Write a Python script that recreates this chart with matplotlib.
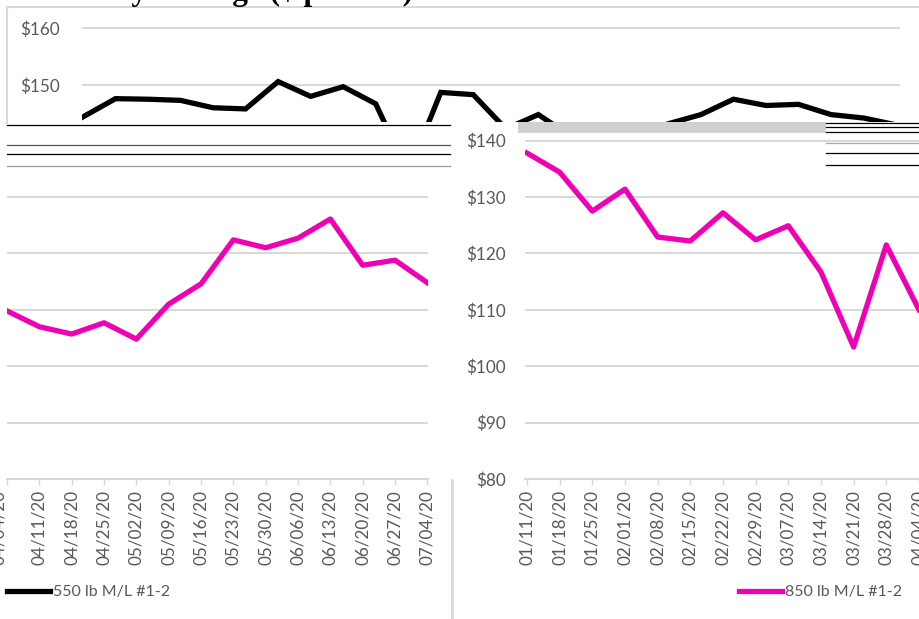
import numpy as np
import matplotlib
matplotlib.use("Agg")
import matplotlib.pyplot as plt
from matplotlib.lines import Line2D
from matplotlib.patches import Rectangle
from matplotlib.transforms import ScaledTranslation

# -------------------------------
# data
# -------------------------------
# black 550 lb series, visible in the top strip (weekly points)
black_vals = [144.4, 147.6, 147.5, 147.3, 146.0, 145.8, 150.6, 148.0, 149.7, 146.7,
              134.5, 148.7, 148.3, 142.3, 144.8, 141.0, 140.5, 141.0, 143.2, 144.8,
              147.5, 146.4, 146.6, 144.8, 144.2, 143.0]

# pink series, left panel
left_dates = ["04/04/20", "04/11/20", "04/18/20", "04/25/20", "05/02/20", "05/09/20",
              "05/16/20", "05/23/20", "05/30/20", "06/06/20", "06/13/20", "06/20/20",
              "06/27/20", "07/04/20"]
left_vals = [109.8, 107.0, 105.7, 107.7, 104.8, 111.0, 114.6, 122.4, 121.0, 122.7,
             126.1, 117.9, 118.8, 114.8]

# pink 850 lb series, right panel
right_dates = ["01/11/20", "01/18/20", "01/25/20", "02/01/20", "02/08/20", "02/15/20",
               "02/22/20", "02/29/20", "03/07/20", "03/14/20", "03/21/20", "03/28/20",
               "04/04/20"]
right_vals = [137.8, 134.4, 127.5, 131.4, 122.9, 122.2, 127.2, 122.4, 124.9, 116.7,
              103.4, 121.5, 110.0]

right_ticks = [80, 90, 100, 110, 120, 130, 140]
top_ticks = [150, 160]

PINK = "#f000b4"
GRID = "#d9d9d9"
TXT = "#595959"
W, H = 919, 619
FS = 12.3

plt.rcParams["font.family"] = ["Lato", "DejaVu Sans"]
fig = plt.figure(figsize=(W / 100, H / 100), dpi=100)


def box(x0, y0, x1, y1):
    # pixel box (top-left origin) -> figure fractions
    return [x0 / W, 1 - y1 / H, (x1 - x0) / W, (y1 - y0) / H]


def fx(x):
    return x / W


def fy(y):
    return 1 - y / H


# -------------------------------
# top strip (550 lb, black)
# -------------------------------
ax_top = fig.add_axes(box(82, 7, 900, 122))
ax_top.plot(range(len(black_vals)), black_vals, color="black", lw=3.8,
            solid_joinstyle="miter", label="550 lb M/L #1-2")
ax_top.set_xlim(-0.03, 25.12)
ax_top.set_ylim(143.5, 163.7)
ax_top.set_yticks(top_ticks)
ax_top.set_yticklabels([f"${v}" for v in top_ticks])
ax_top.set_xticks([])
ax_top.tick_params(axis="y", length=0, pad=16, labelsize=FS, labelcolor=TXT)
ax_top.grid(axis="y", color=GRID, lw=1.5)
ax_top.set_axisbelow(True)
for s in ax_top.spines.values():
    s.set_visible(False)
ax_top.patch.set_alpha(0)

# -------------------------------
# left lower panel (pink)
# -------------------------------
ax_l = fig.add_axes(box(7, 122, 428, 479))
xl = np.arange(len(left_vals))
ax_l.plot(xl, left_vals, color=PINK, lw=3.8)
ax_l.set_xlim(0, 13.02)
ax_l.set_ylim(80, 143.3)
ax_l.set_yticks([90, 100, 110, 120, 130])
ax_l.set_yticklabels([])
ax_l.tick_params(axis="y", length=0)
ax_l.grid(axis="y", color=GRID, lw=1.5)
ax_l.set_axisbelow(True)
ax_l.set_xticks(xl)
ax_l.set_xticklabels(left_dates, rotation=90)
ax_l.tick_params(axis="x", length=4, width=1, color=GRID, pad=4,
                 labelsize=FS, labelcolor=TXT)
for s in ["top", "left", "right"]:
    ax_l.spines[s].set_visible(False)
ax_l.spines["bottom"].set_color(GRID)
ax_l.spines["bottom"].set_linewidth(1.5)
ax_l.patch.set_alpha(0)

# first date sits mostly off the left edge in the reference
first = ax_l.xaxis.get_major_ticks()[0].label1
first.set_transform(first.get_transform() + ScaledTranslation(-6 / 72, 0, fig.dpi_scale_trans))

# -------------------------------
# right panel (850 lb, pink)
# -------------------------------
ax_r = fig.add_axes(box(525, 122, 950, 479))
xr = np.arange(len(right_vals))
ax_r.plot(xr, right_vals, color=PINK, lw=3.8, label="850 lb M/L #1-2")
ax_r.set_xlim(-0.06, 12.95)
ax_r.set_ylim(80, 143.3)
ax_r.set_yticks(right_ticks)
ax_r.set_yticklabels([f"${v}" for v in right_ticks])
ax_r.tick_params(axis="y", length=0, pad=14, labelsize=FS, labelcolor=TXT)
ax_r.grid(axis="y", color=GRID, lw=1.5)
ax_r.set_axisbelow(True)
ax_r.set_xticks(xr)
ax_r.set_xticklabels(right_dates, rotation=90)
ax_r.tick_params(axis="x", length=4, width=1, color=GRID, pad=4,
                 labelsize=FS, labelcolor=TXT)
for s in ["top", "left", "right"]:
    ax_r.spines[s].set_visible(False)
ax_r.spines["bottom"].set_color(GRID)
ax_r.spines["bottom"].set_linewidth(1.5)
ax_r.patch.set_alpha(0)

# -------------------------------
# chart frame, title remnant and screen artefacts
# -------------------------------
fig.add_artist(Line2D([fx(7), fx(919)], [fy(7), fy(7)], color=GRID, lw=1.5))
fig.add_artist(Line2D([fx(7), fx(7)], [fy(7), fy(123)], color=GRID, lw=1.5))
fig.add_artist(Line2D([fx(452), fx(452)], [fy(480), fy(619)], color=GRID, lw=2))

fig.text(fx(48), fy(0), "Weekly Average ($ per cwt)", family="Liberation Serif",
         weight="bold", fontsize=22.5, va="baseline", ha="left")

fig.add_artist(Rectangle((fx(518), fy(133)), fx(826) - fx(518), fy(122) - fy(133),
                         color="#d0d0d0", lw=0))
for y, c in [(125, "black"), (145, "#555555"), (154, "black"), (166, "#999999")]:
    fig.add_artist(Line2D([fx(7), fx(450)], [fy(y), fy(y)], color=c, lw=0.9))
for y, c in [(123, "black"), (127, "black"), (132, "black"), (143, "#aaaaaa"),
             (153, "black"), (165, "black")]:
    fig.add_artist(Line2D([fx(826), fx(919)], [fy(y), fy(y)], color=c, lw=0.9))

# -------------------------------
# legends
# -------------------------------
h_black = Line2D([], [], color="black", lw=3.8)
h_pink = Line2D([], [], color=PINK, lw=3.8)
fig.legend([h_black], ["550 lb M/L #1-2"], loc="center left",
           bbox_to_anchor=(fx(7), fy(592)), frameon=False, fontsize=11.5,
           handlelength=2.7, handletextpad=0.15, borderpad=0, borderaxespad=0,
           labelcolor=TXT)
fig.legend([h_pink], ["850 lb M/L #1-2"], loc="center left",
           bbox_to_anchor=(fx(739), fy(592)), frameon=False, fontsize=11.5,
           handlelength=2.7, handletextpad=0.15, borderpad=0, borderaxespad=0,
           labelcolor=TXT)

fig.savefig("out.png", dpi=100, facecolor="white")
